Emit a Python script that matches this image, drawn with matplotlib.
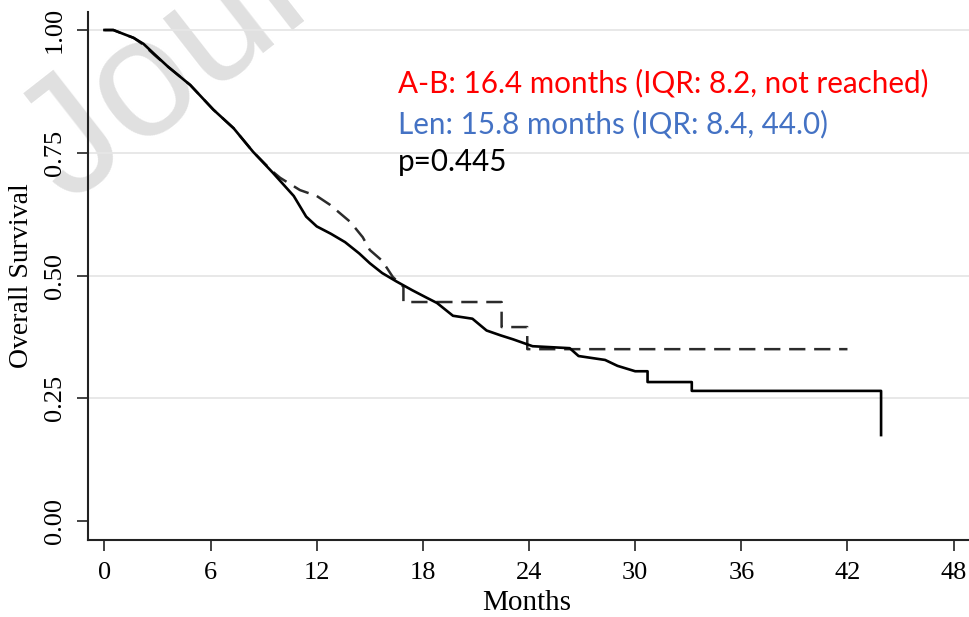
import matplotlib.pyplot as plt
import numpy as np

# survival curves (months, survival probability)
len_months = [0, 0.5, 1.65, 2.2, 3.0, 3.6, 4.85, 6.15, 7.3, 8.4, 9.5, 10.7, 11.4, 12.0,
              12.8, 13.6, 14.4, 15.0, 15.7, 16.5, 17.4, 18.2, 18.8, 19.7, 20.8, 21.6,
              22.4, 23.1, 24.2, 26.3, 26.8, 28.3, 29.0, 30.0, 30.7, 30.7, 33.2, 33.2,
              43.9, 43.9]
len_surv = [1.0, 1.0, 0.984, 0.972, 0.945, 0.925, 0.888, 0.838, 0.800, 0.752, 0.710,
            0.662, 0.620, 0.600, 0.585, 0.568, 0.545, 0.525, 0.505, 0.488, 0.470, 0.455,
            0.444, 0.418, 0.412, 0.388, 0.378, 0.370, 0.356, 0.352, 0.336, 0.328, 0.316,
            0.305, 0.305, 0.283, 0.283, 0.265, 0.265, 0.175]

ab_months = [0, 0.5, 1.65, 2.2, 2.8, 3.6, 4.85, 6.15, 7.3, 8.4, 9.5, 9.93, 11.05, 12.0,
             12.75, 13.9, 14.6, 15.0, 15.7, 16.3, 16.9, 16.9, 22.45, 22.45, 23.9, 23.9,
             42.0]
ab_surv = [1.0, 1.0, 0.984, 0.970, 0.950, 0.925, 0.888, 0.838, 0.800, 0.752, 0.712,
           0.699, 0.674, 0.662, 0.644, 0.609, 0.578, 0.552, 0.530, 0.497, 0.477, 0.446,
           0.446, 0.395, 0.395, 0.350, 0.350]

x_ticks = [0, 6, 12, 18, 24, 30, 36, 42, 48]
y_ticks = [0.00, 0.25, 0.50, 0.75, 1.00]
y_tick_labels = ['0.00', '0.25', '0.50', '0.75', '1.00']

notes = ['A-B: 16.4 months (IQR: 8.2, not reached)',
         'Len: 15.8 months (IQR: 8.4, 44.0)',
         'p=0.445']
note_colors = ['#ff0000', '#4472c4', '#000000']

fig = plt.figure(figsize=(9.69, 6.17), dpi=100)
ax = fig.add_axes([88/969, 77/617, 881/969, 528/617])
ax.set_facecolor('none')

# watermark behind everything
fig.text(68/969, 1 - 205/617, 'Journal Pre-proof', rotation=38, rotation_mode='anchor',
         ha='left', va='baseline', fontsize=122, color='#e0e0e0',
         family='Liberation Sans', zorder=-5)

for yv in y_ticks[1:]:
    ax.axhline(yv, color='#e6e6e6', lw=1.3, zorder=0)

ax.plot(ab_months, ab_surv, color='#2b2b2b', lw=1.8, dashes=(6.5, 3.5), zorder=2)
ax.plot(len_months, len_surv, color='black', lw=1.9, zorder=3)

ax.set_xlim(-0.93, 48.87)
ax.set_ylim(-0.0387, 1.0367)

ax.set_xticks(x_ticks)
ax.set_xticklabels([str(t) for t in x_ticks], family='Liberation Serif', fontsize=19)
ax.set_yticks(y_ticks)
ax.set_yticklabels(y_tick_labels, family='Liberation Serif', fontsize=19,
                   rotation=90, va='center')
ax.tick_params(axis='x', length=8, width=1.2, pad=8, color='#222222')
ax.tick_params(axis='y', length=8, width=1.2, pad=8, color='#222222')

for side in ['top', 'right']:
    ax.spines[side].set_visible(False)
for side in ['left', 'bottom']:
    ax.spines[side].set_linewidth(1.5)
    ax.spines[side].set_color('#222222')

fig.text(527/969, 1 - 603/617, 'Months', ha='center', va='center',
         family='Liberation Serif', fontsize=21)
fig.text(22/969, 1 - 276/617, 'Overall Survival', ha='center', va='center',
         rotation=90, family='Liberation Serif', fontsize=20)

note_y = [0.892, 0.8086, 0.731]
for txt, c, yv in zip(notes, note_colors, note_y):
    ax.text(16.6, yv, txt, color=c, fontsize=21.3, family='Lato', ha='left', va='center')

fig.savefig('out.png', dpi=100)
